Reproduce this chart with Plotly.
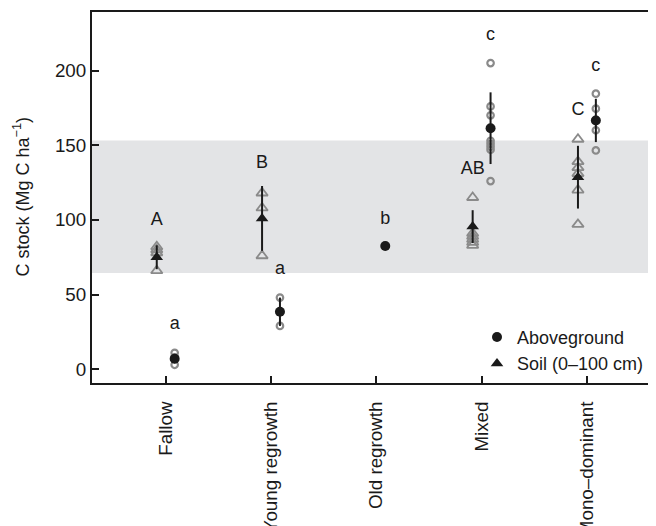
import plotly.graph_objects as go

categories = ["Fallow", "Young regrowth", "Old regrowth", "Mixed", "Mono–dominant"]

# Individual plot values (Mg C ha-1)
soil_points = [[66, 78, 80, 82], [76, 108, 118], [], [83, 85, 87, 89, 91, 115],
               [97, 120, 131, 135, 139, 154]]
above_points = [[3, 8, 11], [29, 48], [82.5], [126, 147, 149, 151, 153, 170, 176, 205],
                [146.5, 160, 167, 174.5, 184.5]]

# Means and error (±)
soil_mean = [75, 101, None, 95.5, 128.6]
soil_err = [8, 21.7, None, 11, 21]
above_mean = [7, 38.5, 82.5, 161.4, 166.6]
above_err = [3, 9.5, 0, 24, 14.5]

# Significance letters
soil_letters = ["A", "B", "", "AB", "C"]
soil_letter_y = [99.5, 137.5, None, 134, 173]
above_letters = ["a", "a", "b", "c", "c"]
above_letter_y = [30, 66.5, 100.5, 223.5, 202.5]

# Shaded reference range
band_low, band_high = 64.4, 153.2

y_ticks = [0, 50, 100, 150, 200]

FONT = "Liberation Sans, Arial, Helvetica, sans-serif"
GRAY = "#8a8a8a"
INK = "#1a1a1a"
OFF = 0.085

idx = list(range(1, len(categories) + 1))

fig = go.Figure()

fig.add_shape(type="rect", xref="paper", x0=0, x1=1, yref="y", y0=band_low, y1=band_high,
              fillcolor="#e3e4e6", line=dict(width=0), layer="below")

# individual points
sx, sy, ax, ay = [], [], [], []
for i, pts in zip(idx, soil_points):
    for v in pts:
        sx.append(i - OFF)
        sy.append(v)
for i, pts in zip(idx, above_points):
    for v in pts:
        ax.append(i + OFF)
        ay.append(v)

fig.add_trace(go.Scatter(x=sx, y=sy, mode="markers", showlegend=False, hoverinfo="skip",
                         marker=dict(symbol="triangle-up-open", size=10, color=GRAY,
                                     line=dict(width=1.8, color=GRAY))))
fig.add_trace(go.Scatter(x=ax, y=ay, mode="markers", showlegend=False, hoverinfo="skip",
                         marker=dict(symbol="circle-open", size=6.5, color=GRAY,
                                     line=dict(width=2.2, color=GRAY))))

# means with error bars
fig.add_trace(go.Scatter(x=[i + OFF for i in idx], y=above_mean, mode="markers",
                         name="Aboveground",
                         marker=dict(symbol="circle", size=10, color=INK),
                         error_y=dict(type="data", array=above_err, symmetric=True,
                                      width=0, thickness=2, color=INK)))
fig.add_trace(go.Scatter(x=[i - OFF for i in idx], y=soil_mean, mode="markers",
                         name="Soil (0–100 cm)",
                         marker=dict(symbol="triangle-up", size=11, color=INK),
                         error_y=dict(type="data", array=soil_err, symmetric=True,
                                      width=0, thickness=2, color=INK)))

# letters (skip empty ones)
def letter_trace(offset, letters, ys):
    xs, yv, tv = [], [], []
    for i, t, y in zip(idx, letters, ys):
        if t and y is not None:
            xs.append(i + offset)
            yv.append(y)
            tv.append(t)
    return go.Scatter(x=xs, y=yv, mode="text", text=tv, textposition="middle center",
                      textfont=dict(family=FONT, size=18, color=INK),
                      showlegend=False, hoverinfo="skip")

fig.add_trace(letter_trace(-OFF, soil_letters, soil_letter_y))
fig.add_trace(letter_trace(OFF, above_letters, above_letter_y))

# page body has an 8 px margin; size the figure so it fills the 656x526 window
fig.update_layout(
    width=648, height=518,
    margin=dict(l=84, r=0, t=4, b=143, autoexpand=False),
    paper_bgcolor="white", plot_bgcolor="white",
    font=dict(family=FONT, size=18, color=INK),
    legend=dict(x=(477 - 92) / 564, xanchor="left", y=0.088, yanchor="middle",
                bgcolor="rgba(0,0,0,0)", font=dict(size=18), tracegroupgap=0),
    annotations=[dict(text="C stock (Mg C ha<sup>−1</sup>)", xref="paper", yref="paper",
                      x=(22 - 92) / 564, y=0.5, xanchor="center", yanchor="middle",
                      textangle=-90, showarrow=False, font=dict(size=18, color=INK))],
)

fig.update_xaxes(range=[0.3, 0.3 + 564 / 105.3], tickmode="array", tickvals=idx,
                 ticktext=categories, tickangle=-90, ticks="inside", ticklen=7,
                 tickwidth=1.5, tickcolor=INK, showline=True, linecolor=INK, linewidth=2,
                 mirror=True, showgrid=False, zeroline=False, ticklabelstandoff=9,
                 tickfont=dict(size=18.8))
fig.update_yaxes(range=[-9.2, 239.2], tickmode="array", tickvals=y_ticks,
                 ticks="inside", ticklen=7, tickwidth=1.5, tickcolor=INK,
                 showline=True, linecolor=INK, linewidth=2, mirror=False,
                 showgrid=False, zeroline=False, ticklabelstandoff=0,
                 tickfont=dict(size=18.8))

fig.write_html("out.html")
